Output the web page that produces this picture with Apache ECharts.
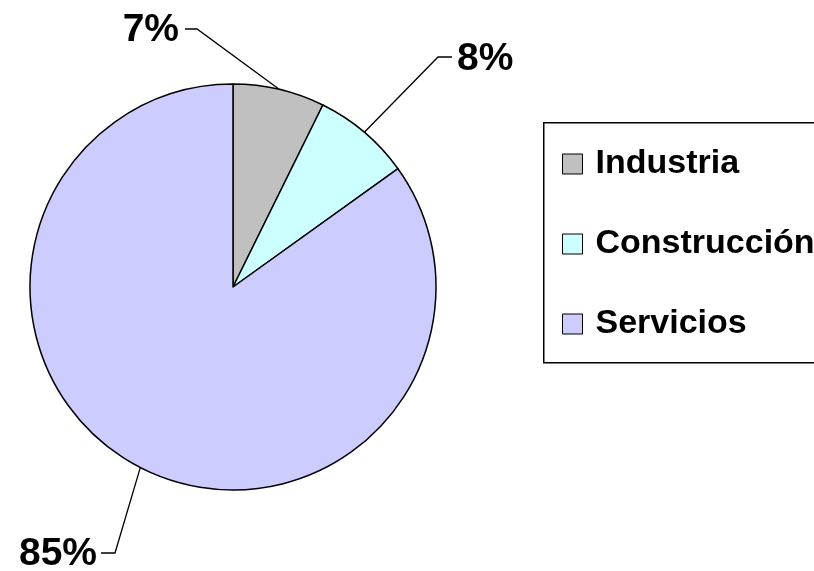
<!DOCTYPE html>
<html>
<head>
<meta charset="utf-8">
<script src="https://cdn.jsdelivr.net/npm/echarts@6/dist/echarts.min.js"></script>
<style>html,body{margin:0;padding:0;background:#fff}#c{width:814px;height:571px}</style>
</head>
<body>
<div id="c"></div>
<script>
const categories = ['Industria', 'Construcción', 'Servicios'];
const values = [7.3, 7.8, 84.9];
const colors = ['#C0C0C0', '#CCFFFF', '#CCCCFF'];

// label placement (text anchor, elbow and end of the leader line)
const labelSpots = [
  {x: 179, y: 30, align: 'right', elbow: [197, 29], end: [185, 29]},
  {x: 457, y: 59, align: 'left', elbow: [438, 57], end: [452, 57]},
  {x: 97, y: 554, align: 'right', elbow: [115, 553], end: [101, 553]}
];

const chart = echarts.init(document.getElementById('c'));
const font = 'Liberation Sans, Arial, sans-serif';
chart.setOption({
  animation: false,
  backgroundColor: '#fff',
  graphic: [{
    type: 'rect', left: 543, top: 122, z: 0,
    shape: {width: 300, height: 240},
    style: {fill: '#fff', stroke: '#000', lineWidth: 1.5}
  }],
  legend: {
    orient: 'vertical', left: 562, top: 144, padding: 0,
    itemWidth: 20, itemHeight: 20, itemGap: 40,
    icon: 'rect',
    data: categories,
    textStyle: {fontFamily: font, fontWeight: 'bold', fontSize: 34, color: '#000', lineHeight: 40, padding: [0, 0, 0, 8]},
    itemStyle: {borderColor: '#000', borderWidth: 1}
  },
  series: [{
    type: 'pie',
    center: [233, 287],
    radius: 203,
    startAngle: 90,
    clockwise: true,
    data: categories.map((n, i) => ({name: n, value: values[i], itemStyle: {color: colors[i]}})),
    itemStyle: {borderColor: '#000', borderWidth: 1.5},
    label: {
      show: true, position: 'outside',
      formatter: p => Math.round(p.percent) + '%',
      fontFamily: font, fontWeight: 'bold', fontSize: 39, color: '#000'
    },
    labelLine: {show: true, length: 20, length2: 10, lineStyle: {color: '#000', width: 1.3}},
    labelLayout: function (p) {
      const s = labelSpots[p.dataIndex];
      return {
        x: s.x, y: s.y, align: s.align, verticalAlign: 'middle',
        labelLinePoints: [p.labelLinePoints[0], s.elbow, s.end]
      };
    },
    emphasis: {disabled: true}
  }]
});
</script>
</body>
</html>
